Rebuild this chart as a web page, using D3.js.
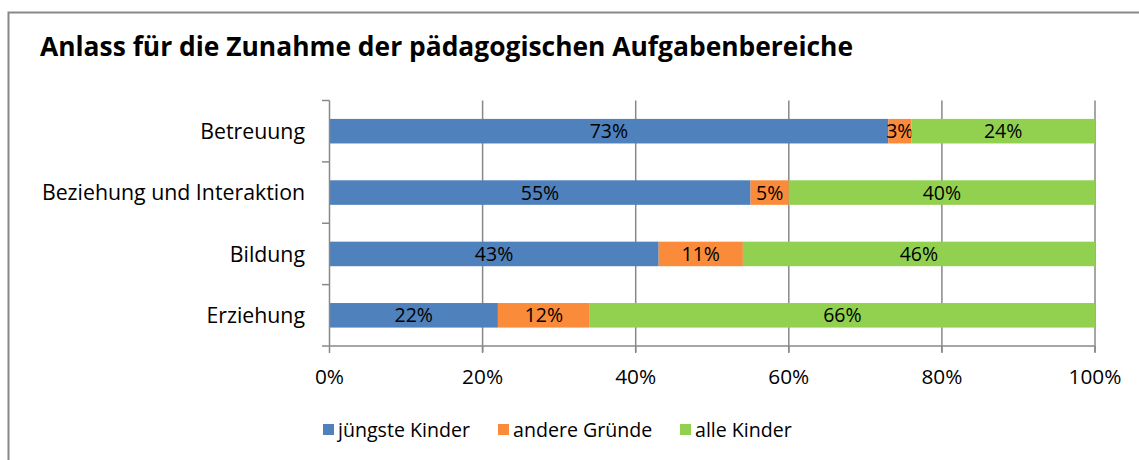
<!DOCTYPE html>
<html>
<head>
<meta charset="utf-8">
<script src="https://cdn.jsdelivr.net/npm/d3@7"></script>
<style>
  body { margin: 0; background: #fff; }
  svg { display: block; font-family: "Open Sans", "Noto Sans", sans-serif; }
</style>
</head>
<body>
<div id="chart"></div>
<script>
// data
const categories = ['Betreuung', 'Beziehung und Interaktion', 'Bildung', 'Erziehung'];
const seriesNames = ['jüngste Kinder', 'andere Gründe', 'alle Kinder'];
const juengste = [73, 55, 43, 22];
const andere = [3, 5, 11, 12];
const alle = [24, 40, 46, 66];
const xTicks = [0, 20, 40, 60, 80, 100];
const colors = ['#4F81BD', '#F98B3A', '#92D050'];

const W = 1139, H = 460;
const svg = d3.select('#chart').append('svg').attr('width', W).attr('height', H);

// outer frame
svg.append('rect')
  .attr('x', 8.5).attr('y', 12.5).attr('width', W + 10).attr('height', H)
  .attr('fill', 'none').attr('stroke', '#888').attr('stroke-width', 2);

svg.append('text')
  .attr('x', 40).attr('y', 56)
  .attr('font-size', 26.4).attr('font-weight', 'bold').attr('fill', '#000')
  .text('Anlass für die Zunahme der pädagogischen Aufgabenbereiche');

const x = d3.scaleLinear().domain([0, 100]).range([329.5, 1095]);
const y = d3.scaleBand().domain(categories).range([100.5, 346]).paddingInner(0.6).paddingOuter(0.3);

const rows = categories.map((c, i) => ({cat: c, vals: [juengste[i], andere[i], alle[i]]}));

// vertical gridlines
svg.append('g').selectAll('line').data(xTicks.slice(1)).join('line')
  .attr('x1', d => x(d)).attr('x2', d => x(d))
  .attr('y1', 100.5).attr('y2', 352)
  .attr('stroke', '#888').attr('stroke-width', 1.5);

// bars
rows.forEach(r => {
  let acc = 0;
  r.vals.forEach((v, k) => {
    const x0 = x(acc), x1 = x(acc + v);
    svg.append('rect')
      .attr('x', x0).attr('y', y(r.cat))
      .attr('width', x1 - x0).attr('height', y.bandwidth())
      .attr('fill', colors[k]);
    svg.append('text')
      .attr('x', (x0 + x1) / 2).attr('y', y(r.cat) + y.bandwidth() / 2)
      .attr('dy', '0.36em').attr('text-anchor', 'middle')
      .attr('font-size', 19.5).attr('fill', '#000')
      .text(v + '%');
    acc += v;
  });
});

// left axis
const step = (346 - 100.5) / categories.length;
const ay = svg.append('g');
ay.append('line').attr('x1', 329.5).attr('x2', 329.5).attr('y1', 100.5).attr('y2', 346)
  .attr('stroke', '#888').attr('stroke-width', 1.5);
ay.selectAll('line.t').data(d3.range(categories.length + 1)).join('line').attr('class', 't')
  .attr('x1', 322).attr('x2', 329.5)
  .attr('y1', d => 100.5 + d * step).attr('y2', d => 100.5 + d * step)
  .attr('stroke', '#888').attr('stroke-width', 1.5);
ay.selectAll('text').data(categories).join('text')
  .attr('x', 305).attr('y', d => y(d) + y.bandwidth() / 2).attr('dy', '0.36em')
  .attr('text-anchor', 'end').attr('font-size', 21.3).attr('fill', '#000')
  .text(d => d);

// bottom axis
const ax = svg.append('g');
ax.append('line').attr('x1', 329.5).attr('x2', 1095).attr('y1', 346).attr('y2', 346)
  .attr('stroke', '#888').attr('stroke-width', 1.5);
ax.selectAll('line.t').data(xTicks).join('line').attr('class', 't')
  .attr('x1', d => x(d)).attr('x2', d => x(d)).attr('y1', 346).attr('y2', 353)
  .attr('stroke', '#888').attr('stroke-width', 1.5);
ax.selectAll('text').data(xTicks).join('text')
  .attr('x', d => x(d)).attr('y', 384).attr('text-anchor', 'middle')
  .attr('font-size', 20.8).attr('fill', '#000')
  .text(d => d + '%');

// legend
const legX = [323, 498, 680];
const leg = svg.append('g');
seriesNames.forEach((n, k) => {
  leg.append('rect').attr('x', legX[k]).attr('y', 424).attr('width', 11).attr('height', 11)
    .attr('fill', colors[k]);
  leg.append('text').attr('x', legX[k] + 15).attr('y', 437)
    .attr('font-size', 19.6).attr('fill', '#000').text(n);
});
</script>
</body>
</html>
